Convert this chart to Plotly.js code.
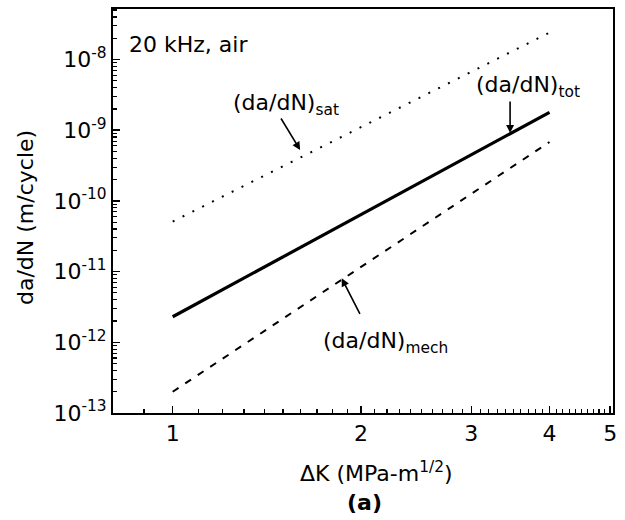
<!DOCTYPE html>
<html>
<head>
<meta charset="utf-8">
<script src="https://cdn.plot.ly/plotly-3.0.1.min.js"></script>
<style>html,body{margin:0;padding:0;background:#fff;}#chart{width:625px;height:520px;}</style>
</head>
<body>
<div id="chart"></div>
<script>
// Stress intensity range, MPa-m^1/2
const deltaK = [1, 1.5, 2, 2.5, 3, 3.5, 4];
// (da/dN)_tot, m/cycle
const daTot = [2.3e-12, 1.6e-11, 6.4e-11, 1.87e-10, 4.5e-10, 9.4e-10, 1.79e-9];
// (da/dN)_sat, m/cycle
const daSat = [5.1e-11, 3.1e-10, 1.11e-9, 3.0e-9, 6.7e-9, 1.34e-8, 2.4e-8];
// (da/dN)_mech, m/cycle
const daMech = [2.0e-13, 2.16e-12, 1.17e-11, 4.4e-11, 1.27e-10, 3.15e-10, 6.8e-10];

const xTickVals = [1, 2, 3, 4, 5];
const xTickText = ['1', '2', '3', '4', '5'];
const yTickVals = [1e-13, 1e-12, 1e-11, 1e-10, 1e-9, 1e-8];
const yTickText = ['10<sup>-13</sup>', '10<sup>-12</sup>', '10<sup>-11</sup>', '10<sup>-10</sup>', '10<sup>-9</sup>', '10<sup>-8</sup>'];

// minor tick positions (axis decoration only)
const xMinor = [];
for (let i = 8; i <= 50; i++) { if (i % 10 !== 0) xMinor.push(i / 10); }
const yMinor = [];
for (let e = -13; e <= -8; e++) { for (let d = 2; d <= 9; d++) yMinor.push(d * Math.pow(10, e)); }

const FONT = 'DejaVu Sans, Liberation Sans, Arial, sans-serif';
const FS = 22;

const xRange = [-0.0954, 0.7035];
const yRange = [-13, -7.286];

const traces = [
  {x: deltaK, y: daSat, mode: 'lines', line: {color: '#000', width: 2, dash: '2px,9px'}, hoverinfo: 'skip'},
  {x: deltaK, y: daTot, mode: 'lines', line: {color: '#000', width: 3.2}, hoverinfo: 'skip'},
  {x: deltaK, y: daMech, mode: 'lines', line: {color: '#000', width: 2, dash: '7px,8px'}, hoverinfo: 'skip'},
  // empty carrier trace for the minor-tick axes
  {x: [], y: [], xaxis: 'x2', yaxis: 'y2', mode: 'lines', hoverinfo: 'skip', showlegend: false}
];

function px(p) { return (p - 113) / 500; }
function py(p) { return (413 - p) / 404; }

const annotations = [
  {xref: 'paper', yref: 'paper', x: px(127), y: py(45), xanchor: 'left', yanchor: 'middle', text: '20 kHz, air', showarrow: false, font: {size: FS}},
  {xref: 'paper', yref: 'paper', x: px(231), y: py(104), xanchor: 'left', yanchor: 'middle', text: '(da/dN)<sub>sat</sub>', showarrow: false, font: {size: FS}},
  {xref: 'paper', yref: 'paper', x: px(474), y: py(87), xanchor: 'left', yanchor: 'middle', text: '(da/dN)<sub>tot</sub>', showarrow: false, font: {size: FS}},
  {xref: 'paper', yref: 'paper', x: px(321), y: py(342), xanchor: 'left', yanchor: 'middle', text: '(da/dN)<sub>mech</sub>', showarrow: false, font: {size: FS}},
  // arrows (tips in log10 data coordinates)
  {x: Math.log10(1.598), y: -9.28, ax: -20, ay: -33, text: '', showarrow: true, arrowhead: 2, arrowsize: 1, arrowwidth: 1.6, arrowcolor: '#000'},
  {x: Math.log10(3.46), y: -9.04, ax: 0, ay: -33, text: '', showarrow: true, arrowhead: 2, arrowsize: 1, arrowwidth: 1.6, arrowcolor: '#000'},
  {x: Math.log10(1.862), y: -11.095, ax: 19, ay: 37, text: '', showarrow: true, arrowhead: 2, arrowsize: 1, arrowwidth: 1.6, arrowcolor: '#000'},
  // axis titles
  {xref: 'paper', yref: 'paper', x: px(376), y: py(472), xanchor: 'center', yanchor: 'middle', text: '\u0394K (MPa-m<sup>1/2</sup>)', showarrow: false, font: {size: FS}},
  {xref: 'paper', yref: 'paper', x: px(364), y: py(502), xanchor: 'center', yanchor: 'middle', text: '<b>(a)</b>', showarrow: false, font: {size: FS}},
  {xref: 'paper', yref: 'paper', x: px(25), y: py(218), xanchor: 'center', yanchor: 'middle', textangle: -90, text: 'da/dN (m/cycle)', showarrow: false, font: {size: FS}}
];

const layout = {
  width: 625, height: 520,
  margin: {l: 113, r: 12, t: 9, b: 107},
  paper_bgcolor: '#fff', plot_bgcolor: '#fff',
  showlegend: false,
  font: {family: FONT, size: FS, color: '#000'},
  xaxis: {
    type: 'log', range: xRange,
    tickmode: 'array', tickvals: xTickVals, ticktext: xTickText,
    ticks: 'inside', ticklen: 7, tickwidth: 1.5, tickcolor: '#000',
    showline: true, linecolor: '#000', linewidth: 2, mirror: true,
    showgrid: false, zeroline: false,
    tickfont: {size: FS}
  },
  yaxis: {
    type: 'log', range: yRange,
    tickmode: 'array', tickvals: yTickVals, ticktext: yTickText,
    ticks: 'inside', ticklen: 7, tickwidth: 1.5, tickcolor: '#000',
    showline: true, linecolor: '#000', linewidth: 2, mirror: true,
    showgrid: false, zeroline: false,
    tickfont: {size: FS}
  },
  xaxis2: {
    type: 'log', range: xRange, overlaying: 'x', side: 'bottom', anchor: 'y2',
    tickmode: 'array', tickvals: xMinor, showticklabels: false,
    ticks: 'inside', ticklen: 4, tickwidth: 1.2, tickcolor: '#000',
    showline: false, showgrid: false, zeroline: false
  },
  yaxis2: {
    type: 'log', range: yRange, overlaying: 'y', side: 'left', anchor: 'x2',
    tickmode: 'array', tickvals: yMinor, showticklabels: false,
    ticks: 'inside', ticklen: 4, tickwidth: 1.2, tickcolor: '#000',
    showline: false, showgrid: false, zeroline: false
  },
  annotations: annotations
};

Plotly.newPlot('chart', traces, layout, {staticPlot: true, displayModeBar: false});
</script>
</body>
</html>
